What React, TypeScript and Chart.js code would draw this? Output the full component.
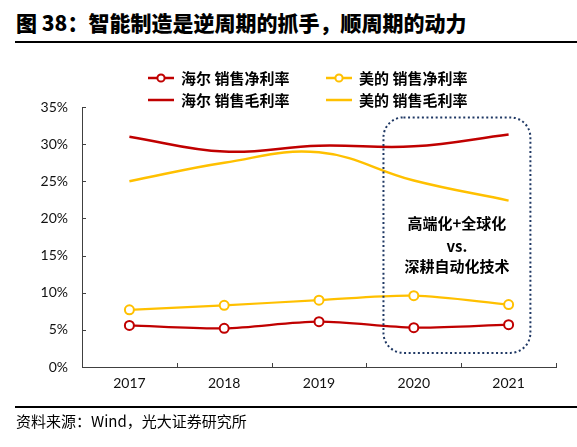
import React, { useEffect, useRef } from 'react';
import Chart from 'chart.js/auto';

const years = ['2017', '2018', '2019', '2020', '2021'];
const haierNet = [5.6, 5.2, 6.1, 5.3, 5.7];
const mideaNet = [7.7, 8.3, 9.0, 9.6, 8.4];
const haierGross = [31.0, 29.0, 29.8, 29.7, 31.3];
const mideaGross = [25.0, 27.5, 28.9, 25.1, 22.4];
const seriesNames = ['海尔 销售净利率', '美的 销售净利率', '海尔 销售毛利率', '美的 销售毛利率'];
const yTicks = [0, 5, 10, 15, 20, 25, 30, 35];
const boxLines = ['高端化+全球化', 'vs.', '深耕自动化技术'];
const boxTextLevels = [19.4, 16.3, 13.6];
const boxRange = { x0: 2.68, x1: 4.23, y0: 1.9, y1: 33.6 };
const titleText = '图 38：智能制造是逆周期的抓手，顺周期的动力';
const sourceText = '资料来源：Wind，光大证券研究所';

const RED = '#C00000';
const GOLD = '#FFC000';
const CJK = '"Noto Sans CJK SC", sans-serif';

function LegendItem({ name, color, marker, left, top }: any) {
  return (
    <div style={{ position: 'absolute', left, top, height: 20, display: 'flex', alignItems: 'center' }}>
      <svg width={26} height={12} style={{ display: 'block' }}>
        <line x1={0} y1={6} x2={26} y2={6} stroke={color} strokeWidth={2.5} />
        {marker && <circle cx={13} cy={6} r={3.6} fill="#fff" stroke={color} strokeWidth={2} />}
      </svg>
      <span style={{ marginLeft: 7, font: `bold 15px ${CJK}`, color: '#000', whiteSpace: 'pre', lineHeight: '20px' }}>{name}</span>
    </div>
  );
}

export default function App() {
  const ref = useRef<HTMLCanvasElement>(null);
  useEffect(() => {
    document.body.style.margin = '0';
    const overlay = {
      id: 'overlay',
      afterDraw(chart: any) {
        const { ctx, scales: { x, y }, chartArea } = chart;
        ctx.save();
        ctx.strokeStyle = '#404040';
        ctx.lineWidth = 1;
        ctx.beginPath();
        for (let i = 0; i <= years.length; i++) {
          const px = Math.round(x.getPixelForValue(i - 0.5)) + 0.5;
          ctx.moveTo(px, chartArea.bottom);
          ctx.lineTo(px, chartArea.bottom - 4);
        }
        for (const v of yTicks) {
          const py = Math.round(y.getPixelForValue(v)) + 0.5;
          ctx.moveTo(chartArea.left, py);
          ctx.lineTo(chartArea.left + 4, py);
        }
        ctx.stroke();
        const l = x.getPixelForValue(boxRange.x0);
        const r = x.getPixelForValue(boxRange.x1);
        const t = y.getPixelForValue(boxRange.y1);
        const b = y.getPixelForValue(boxRange.y0);
        ctx.strokeStyle = '#1F3864';
        ctx.lineWidth = 2;
        ctx.setLineDash([2, 2.6]);
        ctx.beginPath();
        (ctx as any).roundRect(l, t, r - l, b - t, 20);
        ctx.stroke();
        ctx.setLineDash([]);
        ctx.fillStyle = '#000';
        ctx.font = `bold 15px ${CJK}`;
        ctx.textAlign = 'center';
        ctx.textBaseline = 'middle';
        const cx = (l + r) / 2;
        boxLines.forEach((s, i) => ctx.fillText(s, cx, y.getPixelForValue(boxTextLevels[i])));
        ctx.restore();
      },
    };
    const chart = new Chart(ref.current as HTMLCanvasElement, {
      type: 'line',
      data: {
        labels: years,
        datasets: [
          { label: seriesNames[0], data: haierNet, borderColor: RED, backgroundColor: '#fff', borderWidth: 2.2, pointRadius: 4.5, pointBorderWidth: 2, pointBackgroundColor: '#fff', pointBorderColor: RED, tension: 0.3 },
          { label: seriesNames[1], data: mideaNet, borderColor: GOLD, backgroundColor: '#fff', borderWidth: 2.2, pointRadius: 4.5, pointBorderWidth: 2, pointBackgroundColor: '#fff', pointBorderColor: GOLD, tension: 0.3 },
          { label: seriesNames[2], data: haierGross, borderColor: RED, borderWidth: 2.5, pointRadius: 0, tension: 0.4 },
          { label: seriesNames[3], data: mideaGross, borderColor: GOLD, borderWidth: 2.5, pointRadius: 0, tension: 0.4 },
        ],
      },
      options: {
        animation: false,
        responsive: false,
        devicePixelRatio: 1,
        layout: { padding: { top: 107, right: 21, left: 0, bottom: 0 } },
        plugins: { legend: { display: false }, tooltip: { enabled: false } },
        scales: {
          x: {
            offset: true,
            grid: { display: false, drawTicks: false },
            border: { display: true, color: '#404040', width: 1 },
            ticks: { color: '#111', font: { family: 'Lato', size: 14 }, padding: 8 },
            afterFit: (s: any) => { s.height = 80; },
          },
          y: {
            min: 0,
            max: 35,
            grid: { display: false, drawTicks: false },
            border: { display: true, color: '#404040', width: 1 },
            ticks: { stepSize: 5, color: '#111', font: { family: 'Lato', size: 14 }, padding: 14, callback: (v: any) => v + '%' },
            afterFit: (s: any) => { s.width = 82; },
          },
        },
      },
      plugins: [overlay],
    } as any);
    return () => chart.destroy();
  }, []);

  return (
    <div style={{ position: 'relative', width: 577, height: 447, background: '#fff', overflow: 'hidden' }}>
      <div style={{ position: 'absolute', left: 16, top: 7, height: 28, lineHeight: '28px', font: `900 21px ${CJK}`, color: '#000', whiteSpace: 'pre' }}>{titleText}</div>
      <div style={{ position: 'absolute', left: 15, top: 41, width: 562, height: 2, background: '#000' }} />
      <canvas ref={ref} width={577} height={447} style={{ position: 'absolute', left: 0, top: 0 }} />
      <LegendItem name={seriesNames[0]} color={RED} marker left={148} top={68} />
      <LegendItem name={seriesNames[1]} color={GOLD} marker left={326} top={68} />
      <LegendItem name={seriesNames[2]} color={RED} left={148} top={90} />
      <LegendItem name={seriesNames[3]} color={GOLD} left={326} top={90} />
      <div style={{ position: 'absolute', left: 15, top: 406, width: 562, height: 2, background: '#000' }} />
      <div style={{ position: 'absolute', left: 16, top: 410, height: 20, lineHeight: '20px', font: `15px ${CJK}`, color: '#000', whiteSpace: 'pre' }}>{sourceText}</div>
    </div>
  );
}
